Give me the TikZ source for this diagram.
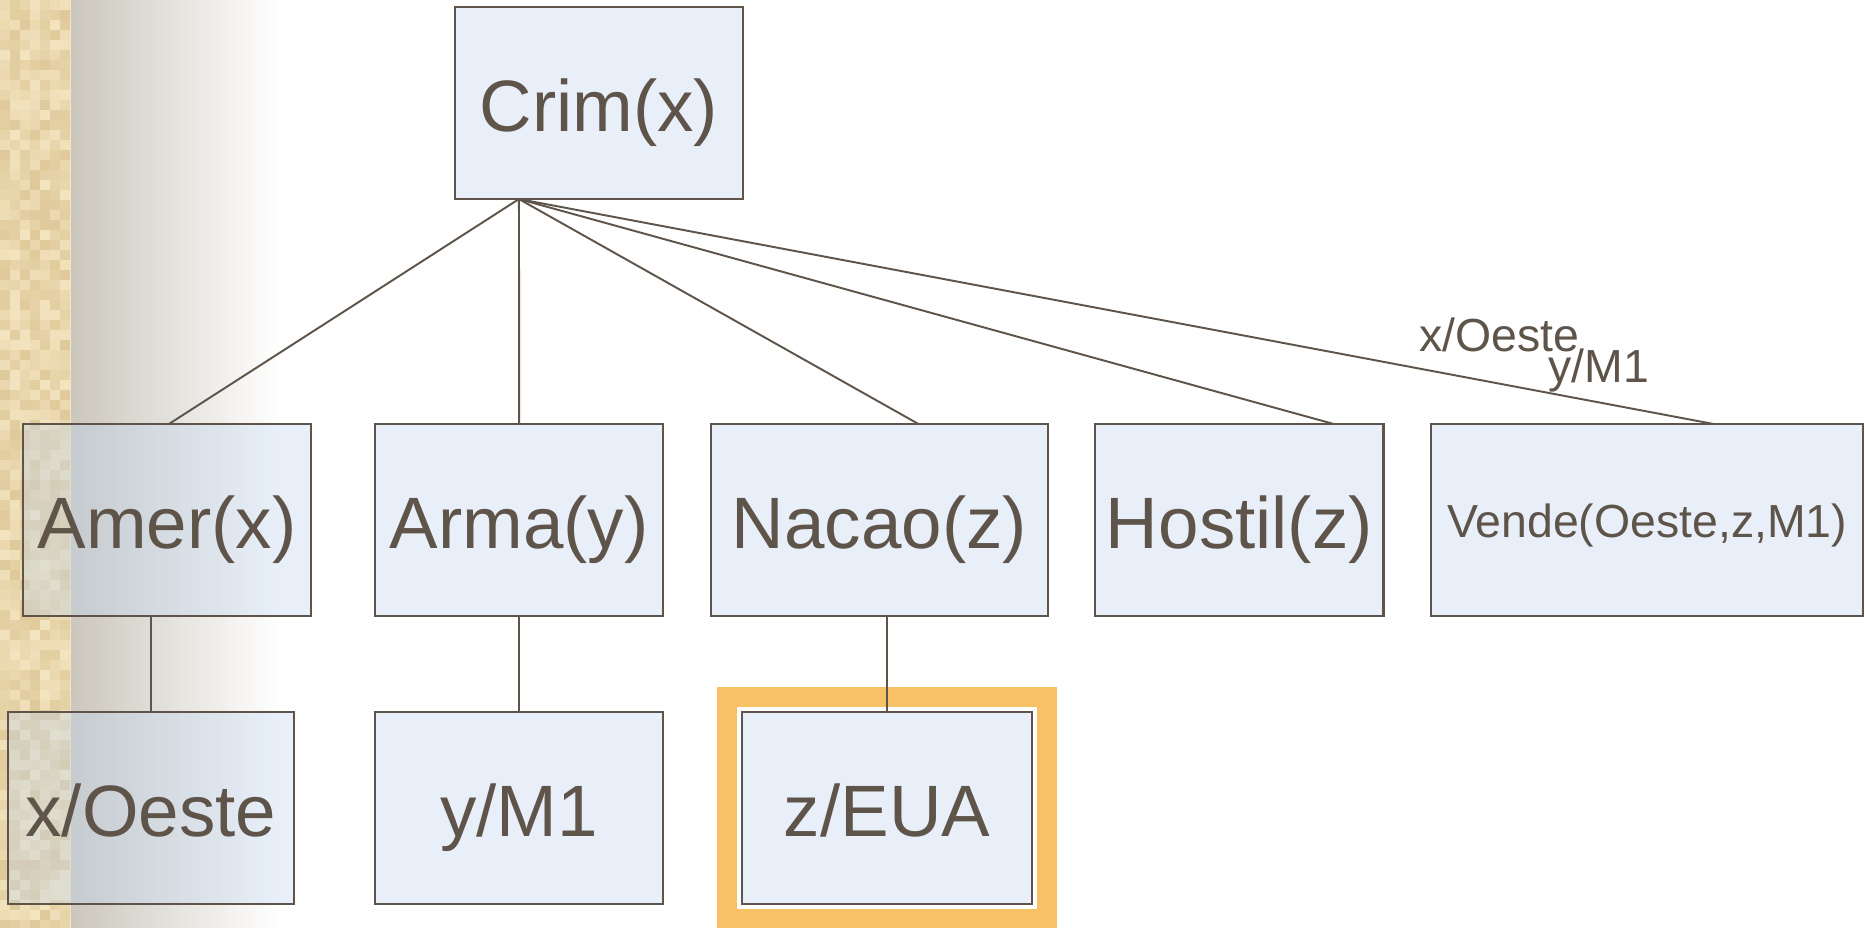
\documentclass[tikz,border=0pt]{standalone}
\usepackage{fontspec}
\setmainfont{Liberation Sans}
\usepackage{tikz}
\usetikzlibrary{positioning}

\definecolor{inkbrown}{RGB}{94,84,74}
\definecolor{boxblue}{RGB}{190,212,240}
\definecolor{hilite}{RGB}{248,193,101}
\definecolor{parchlight}{RGB}{243,228,192}
\definecolor{parchdark}{RGB}{214,188,136}
\definecolor{fadegray}{RGB}{203,199,189}

\begin{document}
\begin{tikzpicture}[
        x=0.01cm, y=-0.01cm,
        term/.style={draw=inkbrown, line width=0.6pt, outer sep=0pt, fill=boxblue, fill opacity=0.35, text opacity=1, text=inkbrown, minimum width=2.88cm, minimum height=1.92cm, inner sep=0pt, font=\fontsize{20.7}{24}\selectfont, text height=16pt, text depth=0pt},
        link/.style={draw=inkbrown, line width=0.55pt},
        note/.style={text=inkbrown, inner sep=0pt, anchor=base west, font=\fontsize{13.2}{15}\selectfont}
    ]
    % background
    \useasboundingbox (0,0) rectangle (1865,928);
    \fill[white] (0,0) rectangle (1865,928);
    \fill[parchlight] (0,0) rectangle (71,928);
    \pgfmathsetseed{11}
    \foreach \i in {0,10,...,60}
        \foreach \j in {0,10,...,920} {
            \pgfmathrandominteger{\r}{0}{70}
            \fill[parchdark!\r!parchlight] (\i,\j) rectangle +(10,10);
        }
    \fill[parchlight] (70,0) rectangle (71,928);
    \shade[left color=fadegray, right color=white] (71,0) rectangle (280,928);

    % nodes
    \node[term] (crim) at (599,103) {Crim(x)};
    \node[term] (amer) at (167,520) {Amer(x)};
    \node[term, right=0.64cm of amer] (arma) {Arma(y)};
    \node[term, minimum width=3.37cm, right=0.474cm of arma] (nacao) {Nacao(z)};
    \node[term, right=0.474cm of nacao] (hostil) {Hostil(z)};
    \node[term, minimum width=4.32cm, right=0.476cm of hostil, font=\fontsize{13.2}{15}\selectfont, text height=9.7pt] (vende) {Vende(Oeste,z,M1)};
    \node[term, minimum width=2.86cm] (xoeste) at (151,808) {x/Oeste};
    \node[term, below=0.96cm of arma] (ym1) {y/M1};
    \node[term, minimum width=2.9cm] (zeua) at (887,808) {z/EUA};

    % highlight
    \draw[hilite, line width=0.2cm] ([shift={(-15,-15)}]zeua.north west) rectangle ([shift={(15,15)}]zeua.south east);

    % links
    \coordinate (root) at ([xshift=-0.8cm]crim.south);
    \foreach \tgt/\dx in {amer/0.02,arma/0,nacao/0.39,hostil/0.94,vende/0.66}
        \draw[link] (root) -- ([xshift=\dx cm]\tgt.north);
    \draw[link] (amer.south -| xoeste.north) -- (xoeste.north);
    \draw[link] (arma.south) -- (ym1.north);
    \draw[link] (nacao.south -| zeua.north) -- (zeua.north);

    % substitution labels
    \node[note] (subx) at (1419,352) {x/Oeste};
    \node[note] (suby) at (1548,383) {y/M1};
\end{tikzpicture}
\end{document}
